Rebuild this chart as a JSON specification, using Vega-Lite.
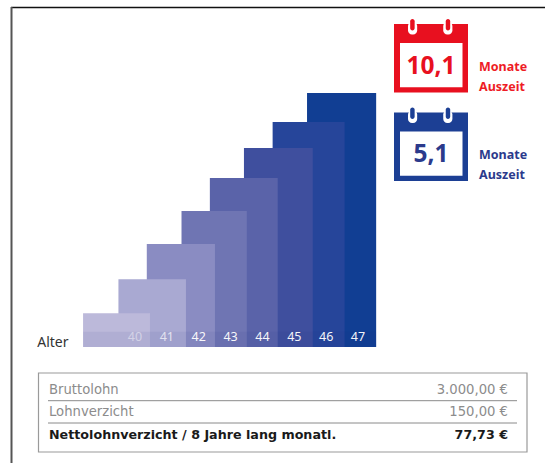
{
"$schema":"https://vega.github.io/schema/vega-lite/v6.json",
"width":545,"height":463,"padding":0,
"autosize":{"type":"fit","contains":"padding"},
"background":"#ffffff",
"config":{"view":{"stroke":null}},
"resolve":{"scale":{"x":"independent","y":"independent","color":"independent","opacity":"independent"}},
"layer":[
{"data":{"values":[{"rand":"oben","von":0,"bis":1}]},
"mark":{"type":"rule","color":"#111111","strokeWidth":1.3},
"encoding":{
"x":{"field":"von","type":"quantitative","axis":null,"scale":{"domain":[0,1],"range":[11,545]}},
"x2":{"field":"bis"},
"y":{"field":"rand","type":"nominal","axis":null,"scale":{"type":"point","domain":["oben"],"range":[7.5,7.5],"padding":0}}}},
{"data":{"values":[{"rand":"links","von":0,"bis":1}]},
"mark":{"type":"rule","color":"#555555","strokeWidth":2},
"encoding":{
"y":{"field":"von","type":"quantitative","axis":null,"scale":{"domain":[0,1],"range":[7,463]}},
"y2":{"field":"bis"},
"x":{"field":"rand","type":"nominal","axis":null,"scale":{"type":"point","domain":["links"],"range":[11.5,11.5],"padding":0}}}},
{"data":{"values":[
{"alter":47,"von":45.4,"bis":47.57,"basis":0,"monate":10.11},
{"alter":46,"von":44.32,"bis":46.58,"basis":0,"monate":8.96},
{"alter":45,"von":43.42,"bis":45.58,"basis":0,"monate":7.92},
{"alter":44,"von":42.35,"bis":44.48,"basis":0,"monate":6.73},
{"alter":43,"von":41.46,"bis":43.51,"basis":0,"monate":5.41},
{"alter":42,"von":40.37,"bis":42.51,"basis":0,"monate":4.1},
{"alter":41,"von":39.48,"bis":41.6,"basis":0,"monate":2.7},
{"alter":40,"von":38.37,"bis":40.47,"basis":0,"monate":1.34}]},
"mark":{"type":"rect"},
"encoding":{
"x":{"field":"von","type":"quantitative","axis":null,"scale":{"domain":[40,47],"range":[135,358],"nice":false,"zero":false}},
"x2":{"field":"bis"},
"y":{"field":"basis","type":"quantitative","axis":null,"scale":{"domain":[0,10.11],"range":[347,93],"nice":false,"zero":false}},
"y2":{"field":"monate"},
"color":{"field":"alter","type":"ordinal","legend":null,"scale":{"domain":[40,41,42,43,44,45,46,47],"range":["#bcb9da","#a9a9d2","#8a8cc2","#6f75b3","#5a63a9","#3f4f9e","#26459a","#113e93"]}}}},
{"data":{"values":[{"von":38.37,"bis":47.57,"basis":0,"monate":0.61}]},
"mark":{"type":"rect","color":"#1c2a7a","opacity":0.07},
"encoding":{
"x":{"field":"von","type":"quantitative","axis":null,"scale":{"domain":[40,47],"range":[135,358],"nice":false,"zero":false}},
"x2":{"field":"bis"},
"y":{"field":"basis","type":"quantitative","axis":null,"scale":{"domain":[0,10.11],"range":[347,93],"nice":false,"zero":false}},
"y2":{"field":"monate"}}},
{"data":{"values":[{"alter":40,"monate":0.41},{"alter":41,"monate":0.41},{"alter":42,"monate":0.41},{"alter":43,"monate":0.41},{"alter":44,"monate":0.41},{"alter":45,"monate":0.41},{"alter":46,"monate":0.41},{"alter":47,"monate":0.41}]},
"mark":{"type":"text","font":"Noto Sans","fontSize":12.5,"align":"center","baseline":"middle","color":"#ffffff"},
"encoding":{
"x":{"field":"alter","type":"quantitative","axis":null,"scale":{"domain":[40,47],"range":[135,358],"nice":false,"zero":false}},
"y":{"field":"monate","type":"quantitative","axis":null,"scale":{"domain":[0,10.11],"range":[347,93],"nice":false,"zero":false}},
"text":{"field":"alter","type":"nominal"},
"opacity":{"field":"alter","type":"quantitative","legend":null,"scale":{"domain":[40,42],"range":[0.45,0.95],"clamp":true}}}},
{"data":{"values":[{"text":"Alter","alter":36.93,"monate":0.17}]},
"mark":{"type":"text","font":"Noto Sans","fontSize":14,"align":"left","baseline":"middle","color":"#333333"},
"encoding":{
"x":{"field":"alter","type":"quantitative","axis":null,"scale":{"domain":[40,47],"range":[135,358],"nice":false,"zero":false}},
"y":{"field":"monate","type":"quantitative","axis":null,"scale":{"domain":[0,10.11],"range":[347,93],"nice":false,"zero":false}},
"text":{"field":"text","type":"nominal"}}},
{"data":{"values":[{"monate":"10,1","k":"a"},{"monate":"5,1","k":"a"}]},
"mark":{"type":"bar"},
"encoding":{
"x":{"field":"k","type":"nominal","axis":null,"scale":{"type":"band","domain":["a"],"range":[394,468],"paddingInner":0,"paddingOuter":0}},
"y":{"field":"monate","type":"nominal","axis":null,"scale":{"type":"band","domain":["10,1","5,1"],"range":[24,181],"paddingInner":0.227,"paddingOuter":0}},
"color":{"field":"monate","type":"nominal","legend":null,"scale":{"domain":["10,1","5,1"],"range":["#e8101f","#1c3f94"]}}}},
{"data":{"values":[{"monate":"10,1","k":"a"},{"monate":"5,1","k":"a"}]},
"mark":{"type":"bar","color":"#ffffff"},
"encoding":{
"x":{"field":"k","type":"nominal","axis":null,"scale":{"type":"band","domain":["a"],"range":[400,462.5],"paddingInner":0,"paddingOuter":0}},
"y":{"field":"monate","type":"nominal","axis":null,"scale":{"type":"band","domain":["10,1","5,1"],"range":[43,175.7],"paddingInner":0.5,"paddingOuter":0}}}},
{"data":{"values":[{"monate":"10,1","ring":"l"},{"monate":"10,1","ring":"r"},{"monate":"5,1","ring":"l"},{"monate":"5,1","ring":"r"}]},
"mark":{"type":"bar","color":"#ffffff","cornerRadius":4},
"encoding":{
"x":{"field":"ring","type":"nominal","axis":null,"scale":{"type":"band","domain":["l","r"],"range":[408,452.4],"paddingInner":0.74,"paddingOuter":0}},
"y":{"field":"monate","type":"nominal","axis":null,"scale":{"type":"band","domain":["10,1","5,1"],"range":[22,123],"paddingInner":0.86,"paddingOuter":0}}}},
{"data":{"values":[{"monate":"10,1","ring":"l"},{"monate":"10,1","ring":"r"},{"monate":"5,1","ring":"l"},{"monate":"5,1","ring":"r"}]},
"mark":{"type":"bar","cornerRadius":2.5},
"encoding":{
"x":{"field":"ring","type":"nominal","axis":null,"scale":{"type":"band","domain":["l","r"],"range":[410.2,450.2],"paddingInner":0.875,"paddingOuter":0}},
"y":{"field":"monate","type":"nominal","axis":null,"scale":{"type":"band","domain":["10,1","5,1"],"range":[19,119],"paddingInner":0.87,"paddingOuter":0}},
"color":{"field":"monate","type":"nominal","legend":null,"scale":{"domain":["10,1","5,1"],"range":["#e8101f","#1c3f94"]}}}},
{"data":{"values":[{"monate":"10,1","k":"a"},{"monate":"5,1","k":"a"}]},
"mark":{"type":"text","font":"Noto Sans","fontSize":24.5,"fontWeight":"bold","align":"center","baseline":"middle"},
"encoding":{
"x":{"field":"k","type":"nominal","axis":null,"scale":{"type":"point","domain":["a"],"range":[431,431],"padding":0}},
"y":{"field":"monate","type":"nominal","axis":null,"scale":{"type":"point","domain":["10,1","5,1"],"range":[66.5,154.5],"padding":0}},
"text":{"field":"monate","type":"nominal"},
"color":{"field":"monate","type":"nominal","legend":null,"scale":{"domain":["10,1","5,1"],"range":["#e8101f","#2b3a8c"]}}}},
{"data":{"values":[{"monate":"10,1","k":"a","text":"Monate\nAuszeit"},{"monate":"5,1","k":"a","text":"Monate\nAuszeit"}]},
"mark":{"type":"text","font":"Noto Sans","fontSize":12.5,"fontWeight":"bold","align":"left","baseline":"middle","lineBreak":"\n","lineHeight":19.5},
"encoding":{
"x":{"field":"k","type":"nominal","axis":null,"scale":{"type":"point","domain":["a"],"range":[479,479],"padding":0}},
"y":{"field":"monate","type":"nominal","axis":null,"scale":{"type":"point","domain":["10,1","5,1"],"range":[67,155],"padding":0}},
"text":{"field":"text","type":"nominal"},
"color":{"field":"monate","type":"nominal","legend":null,"scale":{"domain":["10,1","5,1"],"range":["#ee1c25","#2b3a8c"]}}}},
{"data":{"values":[{"k":"t"}]},
"mark":{"type":"bar","fill":"#ffffff","stroke":"#9a9a9a","strokeWidth":1.2},
"encoding":{
"x":{"field":"k","type":"nominal","axis":null,"scale":{"type":"band","domain":["t"],"range":[38.5,527],"paddingInner":0,"paddingOuter":0}},
"y":{"field":"k","type":"nominal","axis":null,"scale":{"type":"band","domain":["t"],"range":[373,452],"paddingInner":0,"paddingOuter":0}}}},
{"data":{"values":[{"zeile":"Bruttolohn","von":0,"bis":1},{"zeile":"Lohnverzicht","von":0,"bis":1}]},
"mark":{"type":"rule","color":"#8a8a8a","strokeWidth":1},
"encoding":{
"x":{"field":"von","type":"quantitative","axis":null,"scale":{"domain":[0,1],"range":[48,517]}},
"x2":{"field":"bis"},
"y":{"field":"zeile","type":"nominal","axis":null,"scale":{"type":"point","domain":["Bruttolohn","Lohnverzicht"],"range":[400.7,423],"padding":0}}}},
{"data":{"values":[{"zeile":"Bruttolohn","s":"l"},{"zeile":"Lohnverzicht","s":"l"}]},
"mark":{"type":"text","font":"DejaVu Sans","fontSize":13.2,"align":"left","baseline":"middle","color":"#8c8c8c"},
"encoding":{
"x":{"field":"s","type":"nominal","axis":null,"scale":{"type":"point","domain":["l","r"],"range":[49,508],"padding":0}},
"y":{"field":"zeile","type":"nominal","axis":null,"scale":{"type":"point","domain":["Bruttolohn","Lohnverzicht"],"range":[390,412],"padding":0}},
"text":{"field":"zeile","type":"nominal"}}},
{"data":{"values":[{"zeile":"Bruttolohn","betrag":"3.000,00 €","s":"r"},{"zeile":"Lohnverzicht","betrag":"150,00 €","s":"r"}]},
"mark":{"type":"text","font":"DejaVu Sans","fontSize":13.2,"align":"right","baseline":"middle","color":"#8c8c8c"},
"encoding":{
"x":{"field":"s","type":"nominal","axis":null,"scale":{"type":"point","domain":["l","r"],"range":[49,508],"padding":0}},
"y":{"field":"zeile","type":"nominal","axis":null,"scale":{"type":"point","domain":["Bruttolohn","Lohnverzicht"],"range":[390,412],"padding":0}},
"text":{"field":"betrag","type":"nominal"}}},
{"data":{"values":[{"zeile":"Nettolohnverzicht / 8 Jahre lang monatl.","s":"l"}]},
"mark":{"type":"text","font":"DejaVu Sans","fontSize":12.7,"fontWeight":"bold","align":"left","baseline":"middle","color":"#1a1a1a"},
"encoding":{
"x":{"field":"s","type":"nominal","axis":null,"scale":{"type":"point","domain":["l","r"],"range":[49,508],"padding":0}},
"y":{"field":"zeile","type":"nominal","axis":null,"scale":{"type":"point","domain":["Nettolohnverzicht / 8 Jahre lang monatl."],"range":[435,435],"padding":0}},
"text":{"field":"zeile","type":"nominal"}}},
{"data":{"values":[{"zeile":"Nettolohnverzicht / 8 Jahre lang monatl.","betrag":"77,73 €","s":"r"}]},
"mark":{"type":"text","font":"DejaVu Sans","fontSize":12.7,"fontWeight":"bold","align":"right","baseline":"middle","color":"#1a1a1a"},
"encoding":{
"x":{"field":"s","type":"nominal","axis":null,"scale":{"type":"point","domain":["l","r"],"range":[49,508],"padding":0}},
"y":{"field":"zeile","type":"nominal","axis":null,"scale":{"type":"point","domain":["Nettolohnverzicht / 8 Jahre lang monatl."],"range":[435,435],"padding":0}},
"text":{"field":"betrag","type":"nominal"}}}
]}
